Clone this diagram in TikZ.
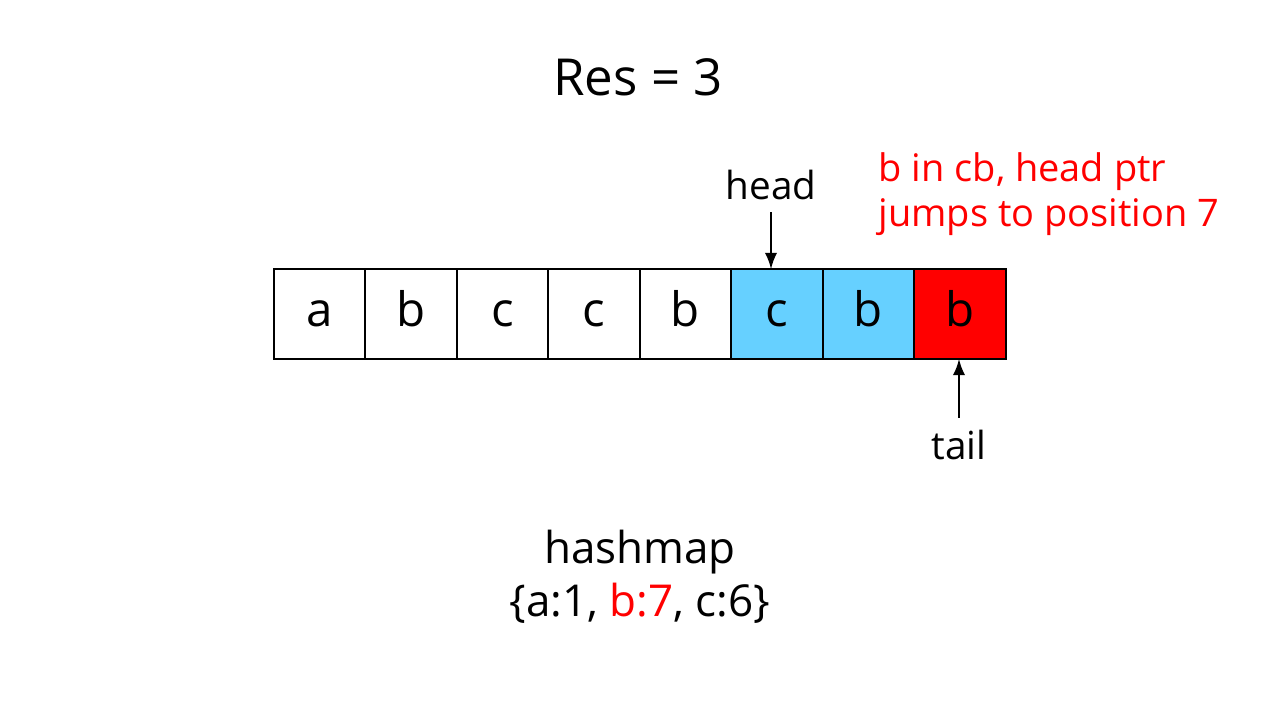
\documentclass[tikz,border=0pt]{standalone}
\usepackage{fontspec}
\setmainfont{Open Sans}
\usepackage{tikz}
\usetikzlibrary{arrows,positioning}

\definecolor{winblue}{RGB}{102,208,255}
\definecolor{dupred}{RGB}{255,0,0}

\begin{document}
\begin{tikzpicture}[
    x=0.01cm, y=-0.01cm,
    cell_node/.style={rectangle, draw=black, line width=0.6pt, minimum width=0.914cm, minimum height=0.9cm, inner sep=0pt, outer sep=0pt, text height=0.72em, text depth=0.02em, font=\fontsize{13.5}{16}\selectfont},
    window_node/.style={cell_node, fill=winblue},
    dup_node/.style={cell_node, fill=dupred},
    ptr_label/.style={font=\fontsize{11}{13}\selectfont},
    note_label/.style={font=\fontsize{10.8}{12.8}\selectfont, text=dupred, align=left, anchor=north west, inner sep=0pt},
    arrow/.style={->, >=latex, line width=0.6pt}
]
\useasboundingbox (0,0) rectangle (1280,720);

% Result
\node[font=\fontsize{14.5}{17}\selectfont] (res) at (638,77) {Res = 3};

% String cells
\node[cell_node] (c1) at (319.7,314) {a};
\node[cell_node, right=0pt of c1] (c2) {b};
\node[cell_node, right=0pt of c2] (c3) {c};
\node[cell_node, right=0pt of c3] (c4) {c};
\node[cell_node, right=0pt of c4] (c5) {b};
\node[window_node, right=0pt of c5] (c6) {c};
\node[window_node, right=0pt of c6] (c7) {b};
\node[dup_node, right=0pt of c7] (c8) {b};

% Pointers
\node[ptr_label] (head) at (771,185) {head};
\node[ptr_label] (tail) at (959,445) {tail};
\draw[arrow] (head) -- (head |- c6.north);
\draw[arrow] (tail) -- (tail |- c8.south);

% Note
\node[note_label] (note) at (878,152) {b in cb, head ptr\\jumps to position 7};

% Hashmap
\node[font=\fontsize{12.5}{15}\selectfont, align=center] (hashmap) at (640,577) {hashmap\\\{a:1, \textcolor{dupred}{b:7}, c:6\}};

\end{tikzpicture}
\end{document}
